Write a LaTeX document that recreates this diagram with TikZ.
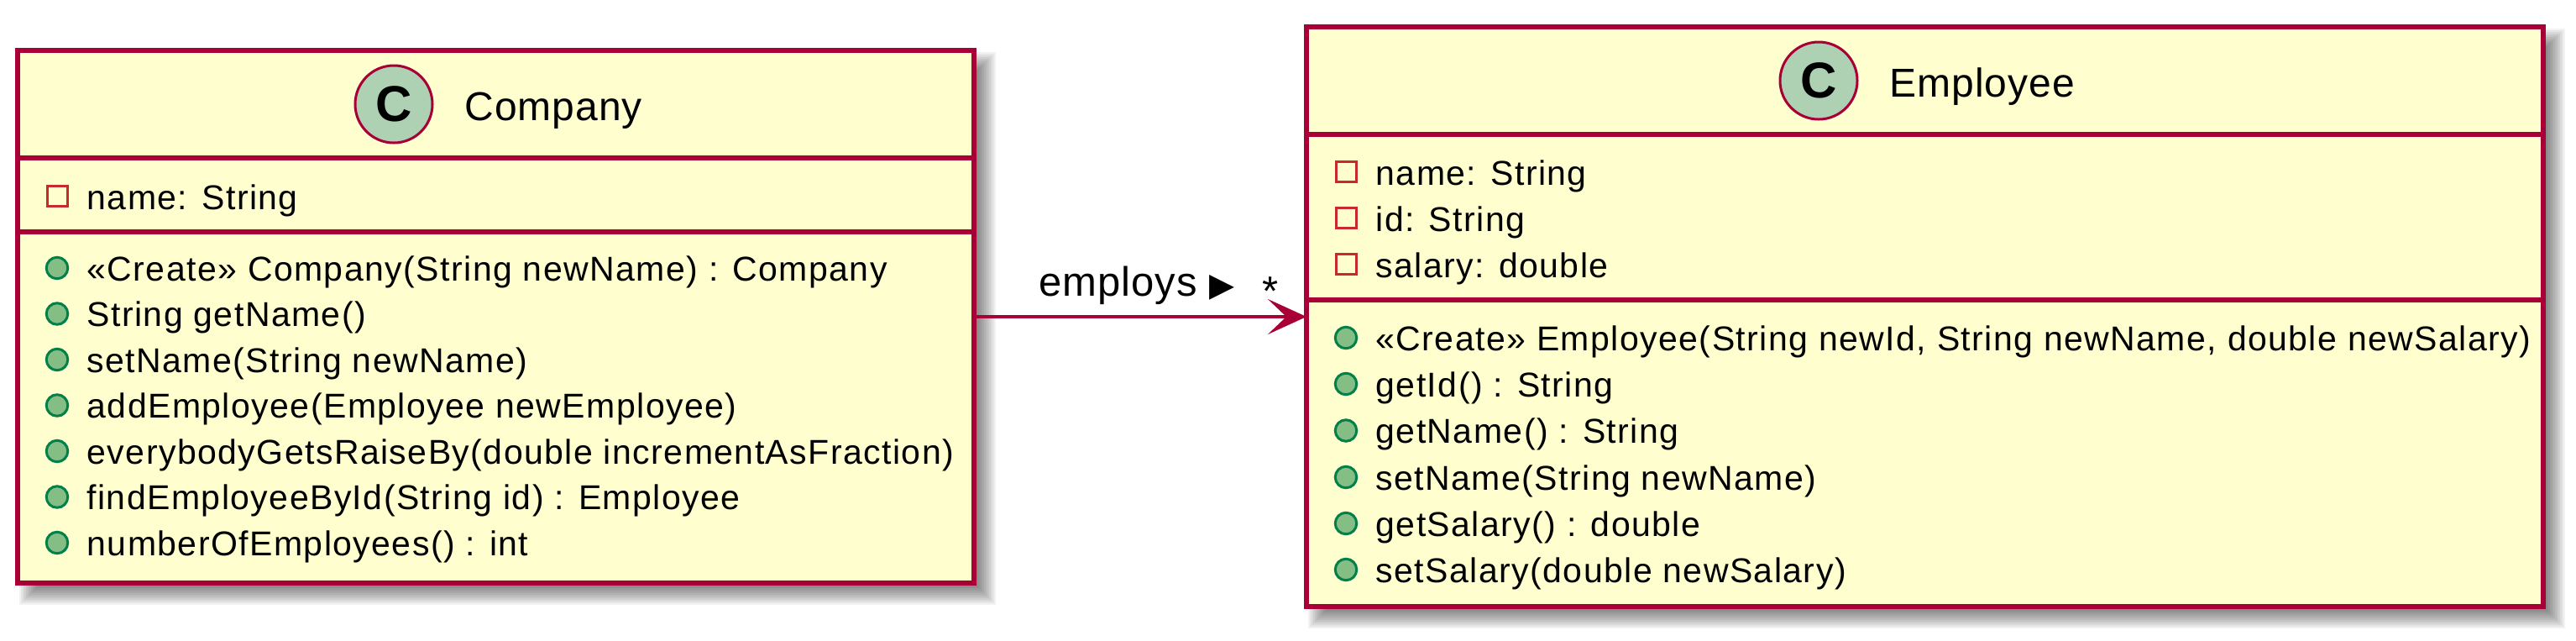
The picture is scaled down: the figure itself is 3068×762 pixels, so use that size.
\documentclass[tikz,border=0pt]{standalone}
\usepackage{fontspec}
\setmainfont{Liberation Sans}
\newfontfamily\memberfont[LetterSpace=3.5]{Liberation Sans}
\newfontfamily\titlefont[LetterSpace=2]{Liberation Sans}
\newfontfamily\symfont{DejaVu Sans}
\usetikzlibrary{arrows.meta}
\definecolor{boxfill}{HTML}{FEFECE}
\definecolor{boxline}{HTML}{A80036}
\definecolor{cfill}{HTML}{ADD1B2}
\definecolor{attrred}{HTML}{C82930}
\definecolor{methfill}{HTML}{84BE84}
\definecolor{methline}{HTML}{038048}
\begin{document}
\begin{tikzpicture}[x=0.333333pt, y=-0.333333pt,
  classbox/.style={rectangle, draw=boxline, fill=boxfill, line width=1.85pt, inner sep=0pt, outer sep=0pt},
  sepline/.style={draw=boxline, line width=1.85pt},
  cicon/.style={circle, draw=boxline, fill=cfill, line width=1pt, minimum size=30.67pt, inner sep=0pt, font=\fontsize{20pt}{20pt}\selectfont\bfseries},
  titletext/.style={anchor=base west, inner sep=0pt, font=\titlefont\fontsize{16pt}{19pt}\selectfont},
  member/.style={anchor=base west, inner sep=0pt, font=\memberfont\fontsize{13.67pt}{16pt}\selectfont},
  attricon/.style={rectangle, draw=attrred, line width=1pt, minimum size=8pt, inner sep=0pt},
  methicon/.style={circle, draw=methline, fill=methfill, line width=1pt, minimum size=8.5pt, inner sep=0pt},
  assoc/.style={draw=boxline, line width=1.5pt, -{Stealth[length=15.33pt, width=14pt, inset=7.33pt]}},
  lbl/.style={inner sep=0pt, font=\titlefont\fontsize{16.33pt}{19pt}\selectfont},
]
\useasboundingbox (0,0) rectangle (3068,762);

% shadows
\foreach \e in {-12,-10,...,12}{
  \fill[black, opacity=0.05] (35-\e, 74-\e) rectangle (1174+\e, 708+\e);
  \fill[black, opacity=0.05] (1570-\e, 46-\e) rectangle (3043+\e, 736+\e);
}

% Company
\node[classbox, minimum width=379.67pt, minimum height=211.33pt] (company) at (590.5,377) {};
\draw[sepline] (21,188) -- (1160,188);
\draw[sepline] (21,276) -- (1160,276);
\node[cicon] (cC) at (469,124) {C};
\node[titletext] (cT) at (553,143) {Company};
\node[attricon] (ca1i) at (68,233) {};
\node[member] (ca1) at (103,249) {name: String};
\node[methicon] (cm1i) at (68,319) {};
\node[member] (cm1) at (103,334) {«Create» Company(String newName) : Company};
\node[methicon] (cm2i) at (68,373.5) {};
\node[member] (cm2) at (103,388.5) {String getName()};
\node[methicon] (cm3i) at (68,428) {};
\node[member] (cm3) at (103,443) {setName(String newName)};
\node[methicon] (cm4i) at (68,482.5) {};
\node[member] (cm4) at (103,497.5) {addEmployee(Employee newEmployee)};
\node[methicon] (cm5i) at (68,537) {};
\node[member] (cm5) at (103,552) {everybodyGetsRaiseBy(double incrementAsFraction)};
\node[methicon] (cm6i) at (68,591.5) {};
\node[member] (cm6) at (103,606.5) {findEmployeeById(String id) : Employee};
\node[methicon] (cm7i) at (68,646) {};
\node[member] (cm7) at (103,661) {numberOfEmployees() : int};

% Employee
\node[classbox, minimum width=491pt, minimum height=230pt] (employee) at (2292.5,377) {};
\draw[sepline] (1556,160) -- (3029,160);
\draw[sepline] (1556,357) -- (3029,357);
\node[cicon] (eC) at (2166,96) {C};
\node[titletext] (eT) at (2250,115) {Employee};
\node[attricon] (ea1i) at (1603,204) {};
\node[member] (ea1) at (1638,220) {name: String};
\node[attricon] (ea2i) at (1603,259) {};
\node[member] (ea2) at (1638,275) {id: String};
\node[attricon] (ea3i) at (1603,314) {};
\node[member] (ea3) at (1638,330) {salary: double};
\node[methicon] (em1i) at (1603,402) {};
\node[member] (em1) at (1638,417) {«Create» Employee(String newId, String newName, double newSalary)};
\node[methicon] (em2i) at (1603,457) {};
\node[member] (em2) at (1638,472) {getId() : String};
\node[methicon] (em3i) at (1603,512.5) {};
\node[member] (em3) at (1638,527.5) {getName() : String};
\node[methicon] (em4i) at (1603,568) {};
\node[member] (em4) at (1638,583) {setName(String newName)};
\node[methicon] (em5i) at (1603,623) {};
\node[member] (em5) at (1638,638) {getSalary() : double};
\node[methicon] (em6i) at (1603,678) {};
\node[member] (em6) at (1638,693) {setSalary(double newSalary)};

% association
\draw[assoc] (company.east) -- (employee.west);
\node[lbl, anchor=base west] (rel) at (1237,352) {employs {\symfont\fontsize{13pt}{13pt}\selectfont ▶}};
\node[lbl, anchor=base] (mult) at (1513,363) {*};
\end{tikzpicture}
\end{document}
